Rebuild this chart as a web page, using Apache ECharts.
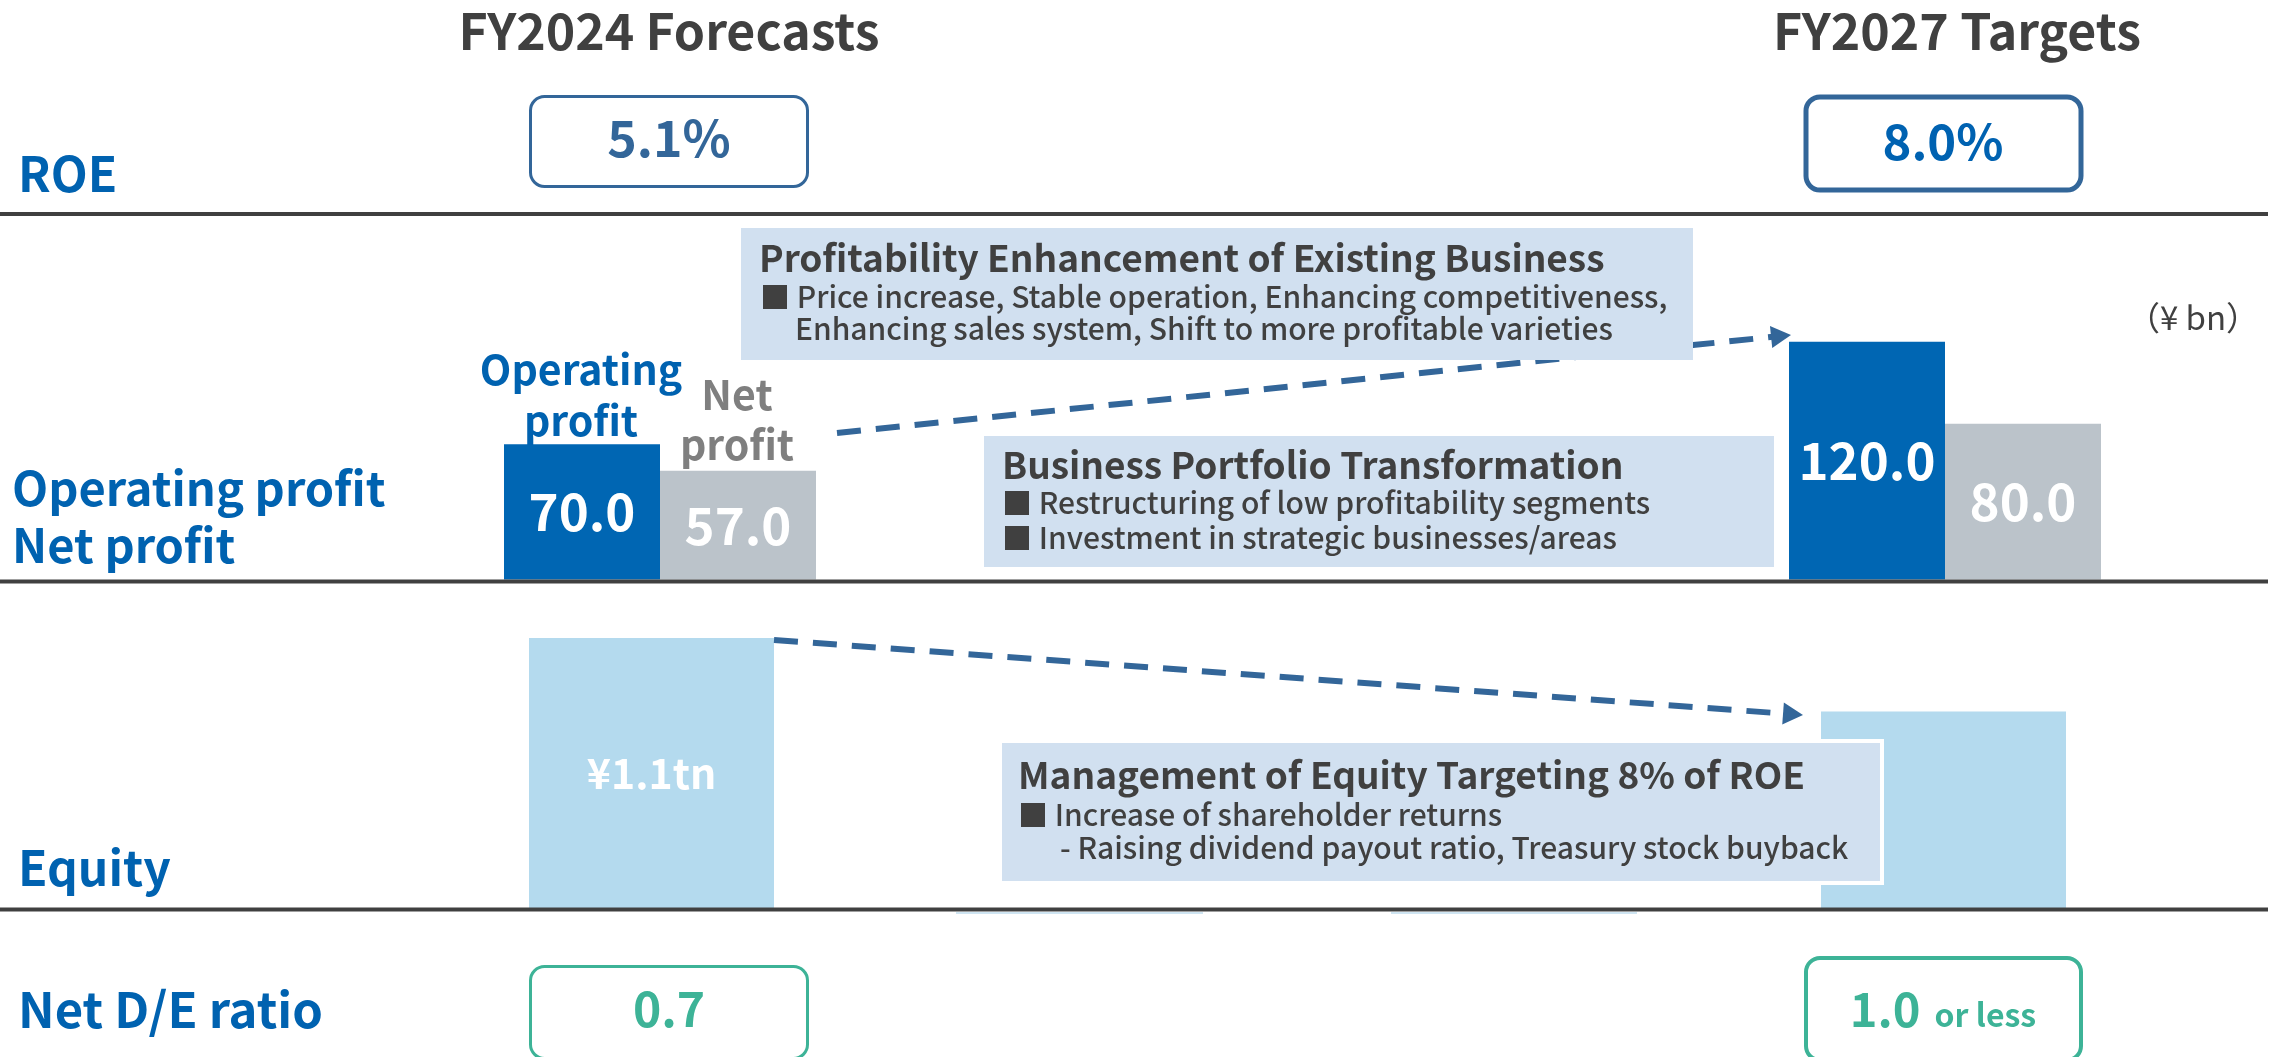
<!DOCTYPE html>
<html><head><meta charset="utf-8">
<script src="https://cdn.jsdelivr.net/npm/echarts@6/dist/echarts.min.js"></script>
<style>html,body{margin:0;padding:0;background:#fff}#c{width:2272px;height:1057px}</style>
</head><body><div id="c"></div>
<script>
// ---------- data ----------
const periods = ['FY2024 Forecasts', 'FY2027 Targets'];
const roeValues = ['5.1%', '8.0%'];
const operatingProfit = [70.0, 120.0];
const netProfit = [57.0, 80.0];
const equityValues = [1.1, 0.8];
const equityLabels = ['¥1.1tn', ''];
const netDERatio = ['0.7', '1.0'];
const netDENote = ['', 'or less'];
const rowLabels = ['ROE', 'Operating profit', 'Net profit', 'Equity', 'Net D/E ratio'];
const seriesNames = ['Operating\nprofit', 'Net\nprofit'];
const unitLabel = '（¥ bn）';
const boxATitle = 'Profitability Enhancement of Existing Business';
const boxALines = ['■ Price increase, Stable operation, Enhancing competitiveness,', 'Enhancing sales system, Shift to more profitable varieties'];
const boxBTitle = 'Business Portfolio Transformation';
const boxBLines = ['■ Restructuring of low profitability segments', '■ Investment in strategic businesses/areas'];
const boxCTitle = 'Management of Equity Targeting 8% of ROE';
const boxCLines = ['■ Increase of shareholder returns', '- Raising dividend payout ratio, Treasury stock buyback'];

// ---------- styling ----------
const F = "'Noto Sans CJK JP','Noto Sans',sans-serif";
const BLUE = '#0062B0', DARK = '#404040', STEEL = '#336699', TEAL = '#3DB397';
const BOXFILL = '#D1E0F0';

function txt(x, y, text, size, color, weight, align, z, family) {
  return { type: 'text', x: x, y: y, z: z || 120, silent: true,
    style: { text: text, fill: color, fontSize: size, fontWeight: weight || 'normal', fontFamily: family || F,
      align: align || 'left', textAlign: align || 'left', verticalAlign: 'middle', textVerticalAlign: 'middle' } };
}
function rect(x, y, w, h, fill, stroke, lw, r, z) {
  return { type: 'rect', z: z || 100, silent: true, shape: { x: x, y: y, width: w, height: h, r: r || 0 },
    style: { fill: fill, stroke: stroke || null, lineWidth: lw || 0 } };
}
function hline(y, x1, x2, color, w, z) {
  return { type: 'line', z: z || 110, silent: true, shape: { x1: x1, y1: y, x2: x2, y2: y },
    style: { stroke: color, lineWidth: w } };
}
function arrow(x1, y1, tx, ty, z) {
  const dx = tx - x1, dy = ty - y1, L = Math.sqrt(dx * dx + dy * dy);
  const ux = dx / L, uy = dy / L, nx = -uy, ny = ux;
  const head = 20, half = 11;
  const bx = tx - ux * head, by = ty - uy * head;
  return [
    { type: 'line', z: z, silent: true, shape: { x1: x1, y1: y1, x2: bx + ux * 2, y2: by + uy * 2 },
      style: { stroke: STEEL, lineWidth: 6, lineDash: [24, 15] } },
    { type: 'polygon', z: z, silent: true,
      shape: { points: [[tx, ty], [bx + nx * half, by + ny * half], [bx - nx * half, by - ny * half]] },
      style: { fill: STEEL } }
  ];
}

const chart = echarts.init(document.getElementById('c'), null, { renderer: 'canvas' });

const graphic = [];
// column titles
graphic.push(txt(669, 31, periods[0], 50, DARK, 'bold', 'center'));
graphic.push(txt(1957, 31, periods[1], 50, DARK, 'bold', 'center'));
// row labels
graphic.push(txt(18, 174, rowLabels[0], 48, BLUE, 'bold'));
graphic.push(txt(12, 488, rowLabels[1], 47, BLUE, 'bold'));
graphic.push(txt(12, 545, rowLabels[2], 47, BLUE, 'bold'));
graphic.push(txt(18, 868, rowLabels[3], 48, BLUE, 'bold'));
graphic.push(txt(18, 1009, rowLabels[4], 49, BLUE, 'bold'));
// separators
graphic.push(hline(214, 0, 2268, '#404040', 4));
graphic.push(hline(581.5, 0, 2268, '#404040', 4));
graphic.push(hline(909.5, 0, 2268, '#404040', 4));
graphic.push(hline(913, 956, 1203, '#CFE5F2', 2));
graphic.push(hline(913, 1391, 1637, '#CFE5F2', 2));
// ROE boxes
graphic.push(rect(530.5, 96.5, 277, 90, '#fff', STEEL, 3, 14));
graphic.push(txt(669, 138, roeValues[0], 50, STEEL, 'bold', 'center'));
graphic.push(rect(1806, 97, 275, 93, '#fff', STEEL, 5, 14));
graphic.push(txt(1943, 141, roeValues[1], 49, '#0062B1', 'bold', 'center'));
// Net D/E boxes
graphic.push(rect(530.5, 966.5, 277, 92, '#fff', TEAL, 3, 14));
graphic.push(txt(669, 1009, netDERatio[0], 48, TEAL, 'bold', 'center'));
graphic.push(rect(1806, 958, 275, 102, '#fff', TEAL, 4, 14));
graphic.push({ type: 'text', x: 1943, y: 1009, z: 120, silent: true,
  style: { text: '{a|' + netDERatio[1] + '}{b|' + netDENote[1] + '}', fill: TEAL, fontFamily: F,
    align: 'center', textAlign: 'center', verticalAlign: 'middle', textVerticalAlign: 'middle',
    rich: { a: { fontSize: 47, fontWeight: 'bold', fill: TEAL, color: TEAL, fontFamily: F },
            b: { fontSize: 32, fontWeight: 'bold', fill: TEAL, color: TEAL, fontFamily: F, padding: [12, 0, 0, 14] } } } });
// unit
graphic.push(txt(2193, 317, unitLabel, 33, DARK, 'normal', 'center', 120, "'Noto Sans CJK TC','Noto Sans',sans-serif"));
// series labels above FY2024 bars
graphic.push({ type: 'text', x: 581, y: 395, z: 120, silent: true,
  style: { text: seriesNames[0], fill: BLUE, fontSize: 41, fontWeight: 'bold', fontFamily: F, lineHeight: 51,
    align: 'center', textAlign: 'center', verticalAlign: 'middle', textVerticalAlign: 'middle' } });
graphic.push({ type: 'text', x: 737, y: 419, z: 120, silent: true,
  style: { text: seriesNames[1], fill: '#7F7F7F', fontSize: 41, fontWeight: 'bold', fontFamily: F, lineHeight: 50,
    align: 'center', textAlign: 'center', verticalAlign: 'middle', textVerticalAlign: 'middle' } });
// arrows
arrow(837, 433, 1791, 335, 90).forEach(e => graphic.push(e));
arrow(774, 640, 1803, 715, 90).forEach(e => graphic.push(e));
// Box A
graphic.push(rect(741, 228, 952, 132, BOXFILL, null, 0, 0, 100));
graphic.push(txt(759, 257.5, boxATitle, 37, DARK, 'bold'));
graphic.push(txt(760, 297, boxALines[0], 30, DARK, '500'));
graphic.push(txt(795, 329, boxALines[1], 30, DARK, '500'));
// Box B
graphic.push(rect(984, 436, 790, 131, BOXFILL, null, 0, 0, 100));
graphic.push(txt(1002, 464.5, boxBTitle, 37, DARK, 'bold'));
graphic.push(txt(1002, 503, boxBLines[0], 30, DARK, '500'));
graphic.push(txt(1002, 538, boxBLines[1], 30, DARK, '500'));
// Box C
graphic.push(rect(1000, 741, 882, 142, BOXFILL, '#fff', 4, 0, 100));
graphic.push(txt(1018, 775, boxCTitle, 37, DARK, 'bold'));
graphic.push(txt(1018, 815, boxCLines[0], 30, DARK, '500'));
graphic.push(txt(1060, 848, boxCLines[1], 30, DARK, '500'));

const valueLabel = { show: true, position: 'inside', color: '#fff', fontSize: 51, fontWeight: 'bold', fontFamily: F,
  formatter: p => p.value.toFixed(1) };

chart.setOption({
  animation: false,
  backgroundColor: '#fff',
  grid: [
    { left: 660, width: 1285, top: 321.2, height: 258.3 },
    { left: 651.5, width: 1292, top: 613.4, height: 294.6 }
  ],
  xAxis: [
    { type: 'category', gridIndex: 0, data: periods, boundaryGap: false, show: false },
    { type: 'category', gridIndex: 1, data: periods, boundaryGap: false, show: false }
  ],
  yAxis: [
    { type: 'value', gridIndex: 0, min: 4, max: 130, show: false },
    { type: 'value', gridIndex: 1, min: 0, max: 1.2, show: false }
  ],
  series: [
    { type: 'bar', name: 'Operating profit', xAxisIndex: 0, yAxisIndex: 0, data: operatingProfit,
      barWidth: 156, barGap: '0%', itemStyle: { color: '#0066B3' }, label: valueLabel },
    { type: 'bar', name: 'Net profit', xAxisIndex: 0, yAxisIndex: 0, data: netProfit,
      barWidth: 156, barGap: '0%', itemStyle: { color: '#BBC3CA' }, label: valueLabel },
    { type: 'bar', name: 'Equity', xAxisIndex: 1, yAxisIndex: 1, data: equityValues,
      barWidth: 245, itemStyle: { color: '#B4DAEE' },
      label: { show: true, position: 'inside', color: '#fff', fontSize: 41, fontWeight: 'bold', fontFamily: F,
        formatter: p => equityLabels[p.dataIndex] } }
  ],
  graphic: graphic
});
</script></body></html>
